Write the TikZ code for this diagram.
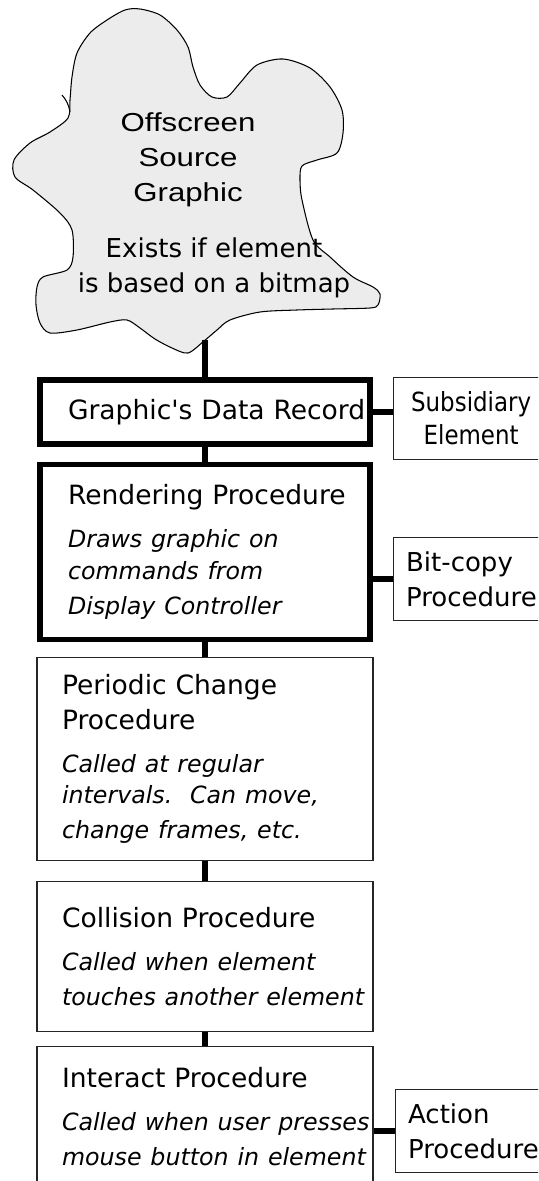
\documentclass[tikz,border=0pt]{standalone}
\usepackage{fontspec}
\setmainfont{DejaVu Sans}
\newfontfamily\arialfont[FakeStretch=1.2]{Liberation Sans}
\newfontfamily\narrowfont[FakeStretch=0.87]{DejaVu Sans}
\newcommand{\desc}{\itshape\fontsize{13.5}{18}\selectfont}

\begin{document}
\begin{tikzpicture}[
    line cap=butt,
    line join=miter,
    wire/.style={line width=3.1pt,black},
    cloud/.style={draw=black,line width=0.6pt,fill=gray!15},
    record/.style={
        draw=black,
        line width=3.4pt,
        inner xsep=0pt,
        inner ysep=0pt,
        align=left,
        text width=6.6cm,
        minimum width=6.6cm,
        execute at begin node={\leftskip=0.56cm},
        font=\fontsize{15.1}{19.9}\selectfont
    },
    proc/.style={
        draw=black!85,
        line width=0.7pt,
        inner xsep=0pt,
        inner ysep=0pt,
        align=left,
        text width=6.72cm,
        minimum width=6.72cm,
        execute at begin node={\leftskip=0.5cm},
        font=\fontsize{15.1}{19.9}\selectfont
    },
    side/.style={
        draw=black!85,
        line width=0.7pt,
        anchor=west,
        inner xsep=0.25cm,
        inner ysep=0pt,
        align=left,
        text width=2.9cm,
        minimum height=1.65cm,
        font=\fontsize{14.8}{19.9}\selectfont
    }
]
\useasboundingbox (0,0) rectangle (10.76,-23.62);
\clip (0,0) rectangle (10.76,-23.62);

% Offscreen source.
\draw[cloud] plot[smooth cycle,tension=0.5] coordinates {
    (2.50,-0.20) (2.80,-0.18) (3.20,-0.30) (3.54,-0.60) (3.76,-0.94) (3.86,-1.34)
    (4.00,-1.70) (4.24,-1.94) (4.54,-1.94) (4.80,-1.66) (5.14,-1.30) (5.66,-1.18)
    (6.20,-1.36) (6.60,-1.74) (6.84,-2.20) (6.86,-2.66) (6.74,-3.06) (6.34,-3.20)
    (6.04,-3.32) (6.00,-3.60) (6.04,-4.00) (6.26,-4.80) (6.60,-5.14) (7.06,-5.54)
    (7.46,-5.74) (7.60,-5.88) (7.56,-6.10) (7.40,-6.16) (6.66,-6.18) (5.94,-6.20)
    (5.20,-6.24) (4.60,-6.40) (4.34,-6.60) (4.08,-6.82) (3.76,-7.06) (3.44,-6.96)
    (3.10,-6.78) (2.80,-6.56) (2.54,-6.40) (2.20,-6.44) (1.54,-6.60) (1.00,-6.66)
    (0.80,-6.46) (0.72,-6.10) (0.74,-5.74) (0.86,-5.54) (1.34,-5.40) (1.46,-5.14)
    (1.44,-4.60) (1.20,-4.26) (0.66,-3.80) (0.30,-3.54) (0.28,-3.20) (0.60,-2.86)
    (1.00,-2.64) (1.36,-2.36) (1.40,-2.00) (1.44,-1.54) (1.54,-1.06) (1.80,-0.66)
    (2.14,-0.40)};
\draw[line width=0.6pt] (1.24,-1.90) to[bend left=15] (1.40,-2.24);

\node[font=\arialfont\fontsize{14.8}{19.9}\selectfont,align=center] (srctitle) at (3.76,-3.20) {Offscreen\\Source\\Graphic};
\node[font=\fontsize{14.8}{19.9}\selectfont,align=center] (srcnote) at (4.28,-5.35) {Exists if element\\is based on a bitmap};
\coordinate (foot) at (4.10,-6.80);

% Element chain.
\node[record,minimum height=1.29cm] (dr) at (4.10,-8.24) {Graphic\textquotesingle s Data Record};
\node[record,minimum height=3.5cm] (render) at (4.10,-11.04) {Rendering Procedure\\[6.5pt]\desc Draws graphic on\\commands from\\Display Controller};
\node[proc,minimum height=4.05cm] (periodic) at (4.10,-15.18) {Periodic Change\\Procedure\\[6.5pt]\desc Called at regular\\intervals.\ \ Can move,\\change frames, etc.};
\node[proc,minimum height=2.99cm] (collision) at (4.10,-19.13) {Collision Procedure\\[6.5pt]\desc Called when element\\touches another element};
\node[proc,minimum height=2.8cm] (interact) at (4.10,-22.33) {Interact Procedure\\[6.5pt]\desc Called when user presses\\mouse button in element};

\draw[wire] (foot) -- (dr.north);
\draw[wire] (dr) -- (render);
\draw[wire] (render) -- (periodic);
\draw[wire] (periodic) -- (collision);
\draw[wire] (collision) -- (interact);

% Side procedures.
\node[side,align=center,text width=2.6cm,font=\narrowfont\fontsize{15}{18.8}\selectfont] (sub) at (7.86,-8.37) {Subsidiary\\Element};
\node[side] (bitcopy) at (7.86,-11.58) {Bit-copy\\Procedure};
\node[side] (action) at (7.90,-22.62) {Action\\Procedure};

\draw[wire] (dr.east) -- (dr.east -| sub.west);
\draw[wire] (bitcopy.west) -- (bitcopy.west -| render.east);
\draw[wire] (action.west) -- (action.west -| interact.east);

\end{tikzpicture}
\end{document}
